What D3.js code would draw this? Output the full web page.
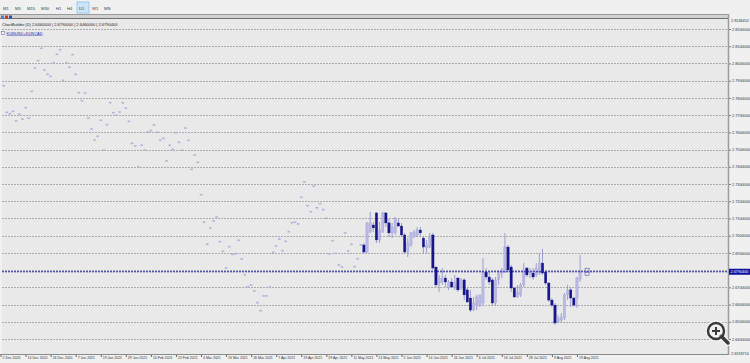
<!DOCTYPE html>
<html>
<head>
<meta charset="utf-8">
<script src="https://d3js.org/d3.v7.min.js"></script>
<style>
  body { margin: 0; background: #f0f0f0; }
  svg text { font-family: "Liberation Sans", Arial, sans-serif; }
</style>
</head>
<body>
<div id="chart"></div>
<script>
// toolbar periods
var periods = ['M1','M5','M15','M30','H1','H4','D1','W1','MN'];
var periodX = [3, 15, 27, 41, 56, 67, 79, 92, 104];

// price grid labels
var gridVals = [2.82,2.81,2.80,2.79,2.78,2.77,2.76,2.75,2.74,2.73,2.72,2.71,2.70,2.69,2.68,2.67,2.66,2.65,2.64];
var lastPrice = 2.67904;

// date labels (bar index, text)
var tickIdx = [0,8,16,24,32,40,48,56,64,72,80,88,96,104,112,120,128,136,144,152,160,168,176,184];
var tickLabels = ['2 Dec 2020','14 Dec 2020','24 Dec 2020','7 Jan 2021','19 Jan 2021','29 Jan 2021',
  '10 Feb 2021','22 Feb 2021','4 Mar 2021','16 Mar 2021','26 Mar 2021','7 Apr 2021','19 Apr 2021',
  '29 Apr 2021','11 May 2021','21 May 2021','2 Jun 2021','14 Jun 2021','24 Jun 2021','6 Jul 2021',
  '16 Jul 2021','28 Jul 2021','9 Aug 2021','19 Aug 2021'];

// early bars (no range: open = high = low = close), bar index 1..115
var flatStart = 1;
var flatPrices = [
  2.7871,2.7716,2.7708,2.7722,2.7666,2.7706,2.7677,2.7743,2.7683,2.7838,
  2.7974,2.8016,2.8088,2.7962,2.7937,2.7925,2.8004,2.8053,2.8080,2.7902,
  2.8004,2.7978,2.8051,2.7937,2.7830,2.7784,2.7828,2.7683,2.7619,2.7556,
  2.7577,2.7670,2.7497,2.7644,2.7772,2.7714,2.7699,2.7718,2.7772,2.7741,
  2.7664,2.7536,2.7521,2.7399,2.7525,2.7497,2.7602,2.7610,2.7643,2.7600,
  2.7554,2.7565,2.7434,2.7525,2.7501,2.7598,2.7542,2.7496,2.7625,2.7554,
  2.7385,2.7468,2.7426,2.7238,2.7079,2.6950,2.7045,2.7085,2.7108,2.6965,
  2.6909,2.6812,2.6936,2.6892,2.6895,2.6973,2.6865,2.6773,2.6704,2.6714,
  2.6679,2.6611,2.6564,2.6650,2.6650,2.6702,2.6903,2.6940,2.6981,2.6913,
  2.6967,2.7023,2.7075,2.7078,2.7068,2.7223,2.7312,2.7174,2.7139,2.7288,
  2.7162,2.7186,2.7151,2.7101,2.6894,2.6971,2.6898,2.6830,2.6818,2.7016,
  2.6911,2.6950,2.6820,2.6866,2.6946
];

// regular candles, bar index 116..185
var candleStart = 116;
var opens  = [2.6946,2.6905,2.7021,2.7062,2.7132,2.6975,2.7021,2.7132,2.7074,2.7016,
  2.7016,2.7074,2.7056,2.7004,2.6905,2.6946,2.6992,2.7004,2.7033,2.6986,
  2.6928,2.6934,2.7004,2.6818,2.6725,2.6731,2.6754,2.6696,2.6731,2.6702,
  2.6754,2.6696,2.6743,2.6685,2.6638,2.6568,2.6597,2.6597,2.6609,2.6789,
  2.6760,2.6743,2.6609,2.6743,2.6783,2.6789,2.6934,2.6818,2.6696,2.6644,
  2.6656,2.6714,2.6812,2.6783,2.6783,2.6772,2.6783,2.6841,2.6789,2.6725,
  2.6626,2.6597,2.6499,2.6510,2.6522,2.6656,2.6685,2.6638,2.6638,2.6748];
var highs  = [2.6957,2.7079,2.7137,2.7079,2.7137,2.7079,2.7137,2.7137,2.7097,2.7074,
  2.7108,2.7097,2.7074,2.7016,2.6986,2.7021,2.7033,2.7050,2.7050,2.6992,
  2.6975,2.7016,2.7016,2.6818,2.6772,2.6812,2.6772,2.6743,2.6754,2.6772,
  2.6760,2.6754,2.6754,2.6696,2.6685,2.6644,2.6656,2.6656,2.6870,2.6812,
  2.6789,2.6754,2.6760,2.6801,2.6812,2.7016,2.6946,2.6830,2.6702,2.6714,
  2.6725,2.6841,2.6818,2.6812,2.6812,2.6841,2.6899,2.6923,2.6801,2.6731,
  2.6638,2.6609,2.6539,2.6551,2.6667,2.6714,2.6702,2.6644,2.6760,2.6888];
var lows   = [2.6899,2.6899,2.7016,2.7021,2.6957,2.6957,2.7016,2.7050,2.6992,2.6986,
  2.7004,2.7050,2.6992,2.6899,2.6876,2.6934,2.6986,2.6992,2.6998,2.6899,
  2.6899,2.6928,2.6801,2.6702,2.6673,2.6714,2.6702,2.6685,2.6696,2.6685,
  2.6673,2.6685,2.6626,2.6609,2.6557,2.6563,2.6568,2.6586,2.6597,2.6743,
  2.6714,2.6597,2.6597,2.6714,2.6754,2.6783,2.6789,2.6673,2.6638,2.6638,
  2.6644,2.6702,2.6760,2.6754,2.6743,2.6760,2.6772,2.6772,2.6714,2.6615,
  2.6586,2.6481,2.6493,2.6499,2.6510,2.6626,2.6586,2.6586,2.6580,2.6731];
var closes = [2.6905,2.7074,2.7074,2.7045,2.6975,2.7033,2.7132,2.7074,2.7016,2.7050,
  2.7103,2.7056,2.7004,2.6905,2.6957,2.7016,2.7021,2.7033,2.7016,2.6934,
  2.6946,2.6992,2.6812,2.6714,2.6754,2.6754,2.6731,2.6731,2.6702,2.6731,
  2.6685,2.6743,2.6656,2.6615,2.6568,2.6609,2.6644,2.6656,2.6789,2.6760,
  2.6731,2.6609,2.6743,2.6783,2.6801,2.6934,2.6801,2.6696,2.6644,2.6673,
  2.6714,2.6801,2.6772,2.6801,2.6760,2.6812,2.6841,2.6783,2.6725,2.6626,
  2.6597,2.6493,2.6522,2.6528,2.6656,2.6685,2.6638,2.6597,2.6754,2.67904];

var width = 750, height = 363;
var plotRight = 728, plotTop = 14, plotBottom = 354;

var svg = d3.select('#chart').append('svg')
  .attr('width', width).attr('height', height);

// page + toolbar
svg.append('rect').attr('width', width).attr('height', height).attr('fill', '#f0f0f0');
svg.append('rect').attr('x', 77).attr('y', 2).attr('width', 12).attr('height', 11)
  .attr('fill', '#cce4f7').attr('stroke', '#99c9ef');
svg.selectAll('.period').data(periods).join('text')
  .attr('class', 'period')
  .attr('x', function(d, i) { return periodX[i]; })
  .attr('y', 9.5)
  .attr('font-size', 4.2).attr('fill', '#444')
  .text(function(d) { return d; });

// chart area
svg.append('rect').attr('x', 0).attr('y', plotTop).attr('width', plotRight).attr('height', plotBottom - plotTop)
  .attr('fill', '#e9e9e9');
svg.append('rect').attr('x', 0).attr('y', 14).attr('width', plotRight).attr('height', 5).attr('fill', '#d2d2d2');
svg.append('line').attr('x1', 0).attr('x2', plotRight).attr('y1', 14.5).attr('y2', 14.5).attr('stroke', '#9a9a9a');
svg.append('line').attr('x1', 0).attr('x2', plotRight).attr('y1', 18.5).attr('y2', 18.5).attr('stroke', '#707070');
svg.append('line').attr('x1', 1).attr('x2', 1).attr('y1', 19).attr('y2', plotBottom).attr('stroke', '#f7f7f7');

var x = d3.scaleLinear().domain([0, 185]).range([0.5, 580.1]);
var y = d3.scaleLinear().domain([2.64, 2.82]).range([339, 29]);

// grid
svg.append('g').selectAll('line').data(gridVals).join('line')
  .attr('x1', 2).attr('x2', plotRight)
  .attr('y1', function(d) { return Math.round(y(d)) + 0.5; })
  .attr('y2', function(d) { return Math.round(y(d)) + 0.5; })
  .attr('stroke', '#ababab').attr('stroke-dasharray', '2,1');

// header texts
svg.append('rect').attr('x', 1).attr('y', 15.5).attr('width', 3).attr('height', 3).attr('fill', '#5577cc');
svg.append('rect').attr('x', 5).attr('y', 15.5).attr('width', 3).attr('height', 3).attr('fill', '#d83030');
svg.append('rect').attr('x', 9).attr('y', 15.5).attr('width', 3).attr('height', 3).attr('fill', '#3050b0');
svg.append('text').attr('x', 2).attr('y', 25.5).attr('font-size', 4).attr('fill', '#222')
  .text('ChartBuilder (D)  2.6460000 | 2.6790000 | 2.6460000 | 2.6790400');
svg.append('rect').attr('x', 1.5).attr('y', 31.5).attr('width', 3).attr('height', 3)
  .attr('fill', '#fff').attr('stroke', '#6a6aa0').attr('stroke-width', 0.6);
svg.append('text').attr('x', 6.5).attr('y', 34.5).attr('font-size', 4).attr('fill', '#2a2ab0')
  .attr('text-decoration', 'underline')
  .text('KUNUSD+KUNCAD');

// early bars
var flatData = flatPrices.map(function(p, i) { return { i: flatStart + i, p: p }; });
svg.append('g').selectAll('rect').data(flatData).join('rect')
  .attr('x', function(d) { return x(d.i) - 1.3; })
  .attr('y', function(d) { return y(d.p) - 0.8; })
  .attr('width', 2.6).attr('height', 1.6)
  .attr('fill', '#b2b2dc');

// candles
var candles = opens.map(function(o, i) {
  return { i: candleStart + i, o: o, h: highs[i], l: lows[i], c: closes[i] };
});
var cg = svg.append('g');
cg.selectAll('line').data(candles).join('line')
  .attr('x1', function(d) { return x(d.i); })
  .attr('x2', function(d) { return x(d.i); })
  .attr('y1', function(d) { return y(d.h); })
  .attr('y2', function(d) { return y(d.l); })
  .attr('stroke', '#9494d0').attr('stroke-width', 0.9);
cg.selectAll('rect').data(candles).join('rect')
  .attr('x', function(d) { return x(d.i) - 1.2; })
  .attr('y', function(d) { return y(Math.max(d.o, d.c)); })
  .attr('width', 2.4)
  .attr('height', function(d) { return Math.max(1, Math.abs(y(d.o) - y(d.c))); })
  .attr('fill', function(d) { return d.c >= d.o ? '#b8b8e2' : '#16168c'; })
  .attr('stroke', function(d) { return d.c >= d.o ? '#a0a0d6' : '#16168c'; })
  .attr('stroke-width', 0.3);

// current price line
svg.append('line').attr('x1', 2).attr('x2', plotRight)
  .attr('y1', y(lastPrice)).attr('y2', y(lastPrice))
  .attr('stroke', '#1c1ca8').attr('stroke-width', 1).attr('stroke-dasharray', '2,1');
svg.append('rect').attr('x', x(185) + 5).attr('y', y(lastPrice) - 3.5).attr('width', 4).attr('height', 3)
  .attr('fill', 'none').attr('stroke', '#5a5ab8').attr('stroke-width', 0.6);
svg.append('rect').attr('x', x(185) + 5).attr('y', y(lastPrice) + 0.5).attr('width', 4).attr('height', 3)
  .attr('fill', 'none').attr('stroke', '#5a5ab8').attr('stroke-width', 0.6);

// right price axis
var yAxis = svg.append('g').attr('transform', 'translate(' + (plotRight + 1) + ',0)')
  .call(d3.axisRight(y).tickValues(gridVals).tickSize(2).tickPadding(1).tickFormat(d3.format('.7f')));
yAxis.select('.domain').remove();
yAxis.selectAll('line').attr('stroke', '#777');
yAxis.selectAll('text').attr('font-size', 3.8).attr('fill', '#333')
  .attr('font-family', '"Liberation Sans", Arial, sans-serif');
svg.append('line').attr('x1', plotRight + 0.5).attr('x2', plotRight + 0.5).attr('y1', 14).attr('y2', plotBottom + 1)
  .attr('stroke', '#9c9c9c').attr('stroke-width', 1.5);
svg.append('text').attr('x', plotRight + 3).attr('y', 22).attr('font-size', 3.8).attr('fill', '#333')
  .text(d3.format('.7f')(y.invert(21)));
svg.append('text').attr('x', plotRight + 3).attr('y', 355).attr('font-size', 3.8).attr('fill', '#333')
  .text(d3.format('.7f')(y.invert(353)));
svg.append('rect').attr('x', plotRight + 1).attr('y', y(lastPrice) - 3).attr('width', 21).attr('height', 6)
  .attr('fill', '#1010a0');
svg.append('text').attr('x', plotRight + 2.5).attr('y', y(lastPrice) + 1.5).attr('font-size', 3.8).attr('fill', '#fff')
  .text(d3.format('.7f')(lastPrice));

// bottom date axis
var xAxis = svg.append('g').attr('transform', 'translate(0,' + plotBottom + ')')
  .call(d3.axisBottom(x).tickValues(tickIdx).tickSize(3).tickSizeOuter(0)
    .tickFormat(function(d, i) { return tickLabels[i]; }));
xAxis.select('.domain').remove();
xAxis.selectAll('line').attr('stroke', '#666');
xAxis.selectAll('text').attr('font-size', 3.5).attr('fill', '#333')
  .attr('text-anchor', 'start').attr('x', 1.5).attr('y', 2.5)
  .attr('font-family', '"Liberation Sans", Arial, sans-serif');
svg.append('line').attr('x1', 0).attr('x2', plotRight + 1).attr('y1', plotBottom + 0.5).attr('y2', plotBottom + 0.5)
  .attr('stroke', '#8a8a8a');

// zoom overlay icon
var mg = svg.append('g').attr('transform', 'translate(716,331)');
mg.append('line').attr('x1', 5).attr('y1', 5).attr('x2', 12).attr('y2', 12)
  .attr('stroke', '#f4f4f4').attr('stroke-width', 6).attr('stroke-linecap', 'round');
mg.append('circle').attr('r', 8).attr('fill', 'none').attr('stroke', '#f4f4f4').attr('stroke-width', 5);
mg.append('line').attr('x1', 5).attr('y1', 5).attr('x2', 12).attr('y2', 12)
  .attr('stroke', '#3a3a3a').attr('stroke-width', 3.5).attr('stroke-linecap', 'round');
mg.append('circle').attr('r', 8).attr('fill', 'rgba(255,255,255,0.3)').attr('stroke', '#3a3a3a').attr('stroke-width', 2.5);
mg.append('line').attr('x1', -4).attr('x2', 4).attr('stroke', '#3a3a3a').attr('stroke-width', 2);
mg.append('line').attr('y1', -4).attr('y2', 4).attr('stroke', '#3a3a3a').attr('stroke-width', 2);
</script>
</body>
</html>
